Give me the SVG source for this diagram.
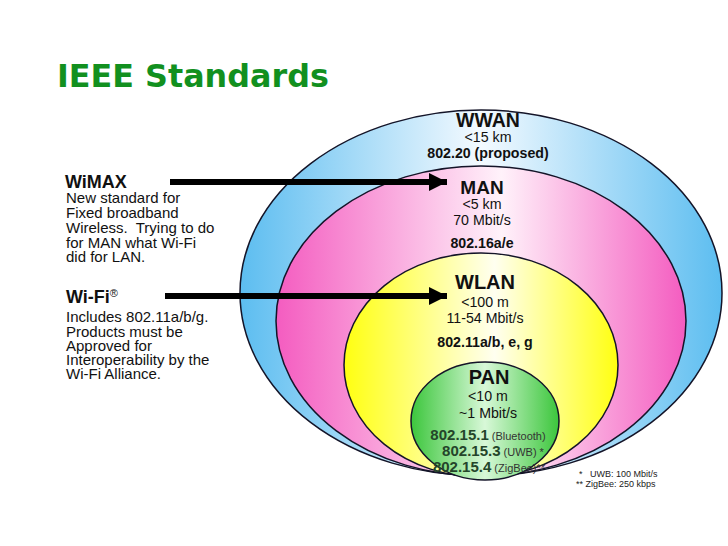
<svg xmlns="http://www.w3.org/2000/svg" width="728" height="546" viewBox="0 0 728 546">
<defs>
<linearGradient id="gBlue" x1="0" y1="0" x2="1" y2="0">
<stop offset="0" stop-color="#5cbdf0"/><stop offset="0.5" stop-color="#f4faff"/><stop offset="1" stop-color="#5cbdf0"/>
</linearGradient>
<linearGradient id="gPink" x1="0" y1="0" x2="1" y2="0">
<stop offset="0" stop-color="#f45cc0"/><stop offset="0.55" stop-color="#fff2fa"/><stop offset="1" stop-color="#f45cc0"/>
</linearGradient>
<linearGradient id="gYellow" x1="0" y1="0" x2="1" y2="0">
<stop offset="0" stop-color="#ffff10"/><stop offset="0.55" stop-color="#fffff0"/><stop offset="1" stop-color="#ffff10"/>
</linearGradient>
<linearGradient id="gGreen" x1="0" y1="0" x2="1" y2="0">
<stop offset="0" stop-color="#3cc63c"/><stop offset="0.5" stop-color="#d8f8d8"/><stop offset="1" stop-color="#3cc63c"/>
</linearGradient>
<marker id="ah" viewBox="0 0 10 10" refX="10" refY="5" markerWidth="3" markerHeight="3" markerUnits="strokeWidth" orient="auto">
<path d="M0,0 L10,5 L0,10 Z" fill="#000"/>
</marker>
<style>
.ring{stroke:#141428;stroke-width:1.5}
.t{font-family:"Liberation Sans",Arial,sans-serif;fill:#111}
.b{font-weight:bold}
.h{font-size:20px;font-weight:bold}
.s{font-size:14.2px}
.l{font-size:15px}
.c{text-anchor:middle}
.g{fill:#24452a;font-weight:bold;font-size:15px}
.p{fill:#333;font-weight:normal;font-size:11px}
.fn{font-size:9px;fill:#222}
</style>
</defs>
<rect width="728" height="546" fill="#fff"/>
<text x="57" y="87" style="font-family:'DejaVu Sans',Verdana,sans-serif;font-weight:bold;font-size:31.8px;fill:#12901f">IEEE Standards</text>

<g id="wwan">
<ellipse class="ring" cx="481" cy="293" rx="241" ry="183" fill="url(#gBlue)"/>
</g>
<g id="man">
<ellipse class="ring" cx="481" cy="321" rx="205" ry="155" fill="url(#gPink)"/>
</g>
<g id="wlan">
<ellipse class="ring" cx="481" cy="365" rx="137" ry="112" fill="url(#gYellow)"/>
</g>
<g id="pan">
<ellipse class="ring" cx="485" cy="421" rx="74" ry="59" fill="url(#gGreen)"/>
</g>

<g id="connectors" stroke="#000" stroke-width="6" fill="none">
<line x1="170" y1="182" x2="447" y2="182" marker-end="url(#ah)"/>
<line x1="165" y1="296" x2="447" y2="296" marker-end="url(#ah)"/>
</g>

<g id="wwan-label" class="t">
<text class="t h c" x="488" y="127" style="font-size:19.5px">WWAN</text>
<text class="t s c" x="488" y="142">&lt;15 km</text>
<text class="t s c b" x="488" y="158">802.20 (proposed)</text>
</g>
<g id="man-label">
<text class="t h c" x="482" y="194" style="font-size:19px">MAN</text>
<text class="t s c" x="482" y="209">&lt;5 km</text>
<text class="t s c" x="482" y="225">70 Mbit/s</text>
<text class="t s c b" x="482" y="248">802.16a/e</text>
</g>
<g id="wlan-label">
<text class="t h c" x="485" y="289">WLAN</text>
<text class="t s c" x="485" y="307">&lt;100 m</text>
<text class="t s c" x="485" y="323">11-54 Mbit/s</text>
<text class="t s c b" x="485" y="347">802.11a/b, e, g</text>
</g>
<g id="pan-label">
<text class="t h c" x="489" y="384">PAN</text>
<text class="t s c" x="488" y="401">&lt;10 m</text>
<text class="t s c" x="488" y="418">~1 Mbit/s</text>
<text class="t c" x="488" y="440"><tspan class="g">802.15.1</tspan><tspan class="p"> (Bluetooth)</tspan></text>
<text class="t c" x="493" y="456"><tspan class="g">802.15.3</tspan><tspan class="p"> (UWB) *</tspan></text>
<text class="t c" x="489" y="472"><tspan class="g">802.15.4</tspan><tspan class="p"> (ZigBee)**</tspan></text>
</g>

<g id="wimax">
<text class="t b" x="65" y="188" style="font-size:18px">WiMAX</text>
<text class="t l" x="66" y="203">New standard for</text>
<text class="t l" x="66" y="218">Fixed broadband</text>
<text class="t l" x="66" y="233">Wireless.&#160; Trying to do</text>
<text class="t l" x="66" y="248">for MAN what Wi-Fi</text>
<text class="t l" x="66" y="262">did for LAN.</text>
</g>
<g id="wifi">
<text class="t b" x="66" y="303" style="font-size:18px">Wi-Fi<tspan style="font-size:11px;font-weight:normal" dy="-6">®</tspan></text>
<text class="t l" x="66" y="322">Includes 802.11a/b/g.</text>
<text class="t l" x="66" y="337">Products must be</text>
<text class="t l" x="66" y="351">Approved for</text>
<text class="t l" x="66" y="365">Interoperability by the</text>
<text class="t l" x="66" y="379">Wi-Fi Alliance.</text>
</g>

<g id="footnotes">
<text class="t fn" x="579" y="477">*&#160;&#160; UWB: 100 Mbit/s</text>
<text class="t fn" x="576" y="487">** ZigBee: 250 kbps</text>
</g>
</svg>
